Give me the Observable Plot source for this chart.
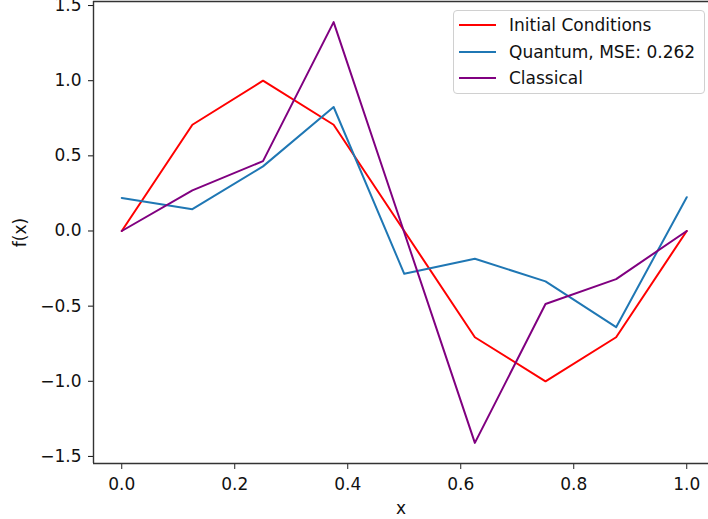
<!DOCTYPE html>
<html>
<head>
<meta charset="utf-8">
<script src="https://cdn.jsdelivr.net/npm/d3@7"></script>
<script src="https://cdn.jsdelivr.net/npm/@observablehq/plot@0.6"></script>
<style>
  html, body { margin: 0; padding: 0; background: #fff; }
  #wrap { position: relative; width: 708px; height: 519px; font-family: "DejaVu Sans", sans-serif; }
  #legend { position: absolute; left: 453px; top: 10px; width: 252px; height: 84px;
    border: 1px solid #d0d0d0; border-radius: 4px; background: rgba(255,255,255,0.85); box-sizing: border-box; }
  .row { position: absolute; left: 0; height: 20px; display: flex; align-items: center; }
  .sw { position: absolute; left: 5px; width: 37px; height: 0; border-top: 2px solid; }
  .lab { position: absolute; left: 55px; font-size: 17px; color: #111; white-space: nowrap; line-height: 20px; }
</style>
</head>
<body>
<div id="wrap"></div>
<script>
const xs = [0, 0.125, 0.25, 0.375, 0.5, 0.625, 0.75, 0.875, 1.0];
const initialConditions = [0, 0.707, 1.0, 0.707, 0, -0.707, -1.0, -0.707, 0];
const quantum = [0.22, 0.145, 0.43, 0.825, -0.285, -0.185, -0.335, -0.64, 0.225];
const classical = [0, 0.27, 0.465, 1.39, -0.01, -1.41, -0.486, -0.32, 0];
const seriesNames = ["Initial Conditions", "Quantum, MSE: 0.262", "Classical"];
const seriesColors = ["red", "#1f77b4", "purple"];
const xTicks = [0, 0.2, 0.4, 0.6, 0.8, 1.0];
const yTicks = [-1.5, -1.0, -0.5, 0, 0.5, 1.0, 1.5];

const allSeries = [initialConditions, quantum, classical];
const data = allSeries.flatMap((vals, i) => vals.map((v, j) => ({x: xs[j], y: v, s: seriesNames[i]})));

const xDom = [-0.05, 1.0385];
const yDom = [-1.547, 1.527];

const chart = Plot.plot({
  width: 708,
  height: 519,
  marginLeft: 93,
  marginRight: 0,
  marginTop: 1,
  marginBottom: 56,
  style: {fontFamily: "DejaVu Sans", fontSize: "17px", color: "#111", background: "white"},
  x: {domain: xDom},
  y: {domain: yDom},
  color: {domain: seriesNames, range: seriesColors},
  marks: [
    Plot.axisX({ticks: xTicks, tickSize: 6, tickPadding: 8, tickFormat: d3.format(".1f"),
      label: "x", labelAnchor: "center", labelArrow: "none", labelOffset: 50, fontSize: 17, stroke: "#222"}),
    Plot.axisY({ticks: yTicks, tickSize: 5, tickPadding: 7, tickFormat: d3.format(".1f"),
      label: "f(x)", labelAnchor: "center", labelArrow: "none", labelOffset: 80, fontSize: 17}),
    Plot.line(data, {x: "x", y: "y", z: "s", stroke: "s", strokeWidth: 2}),
    Plot.ruleX([xDom[0]], {stroke: "#333", strokeWidth: 1.4}),
    Plot.ruleY([yDom[0], yDom[1]], {stroke: "#333", strokeWidth: 1.4})
  ]
});
const wrap = document.getElementById("wrap");
wrap.appendChild(chart);

const legend = document.createElement("div");
legend.id = "legend";
seriesNames.forEach((name, i) => {
  const row = document.createElement("div");
  row.className = "row";
  row.style.top = (4 + i * 26.5) + "px";
  const sw = document.createElement("div");
  sw.className = "sw";
  sw.style.borderColor = seriesColors[i];
  const lab = document.createElement("div");
  lab.className = "lab";
  lab.textContent = name;
  row.appendChild(sw);
  row.appendChild(lab);
  legend.appendChild(row);
});
wrap.appendChild(legend);
</script>
</body>
</html>
